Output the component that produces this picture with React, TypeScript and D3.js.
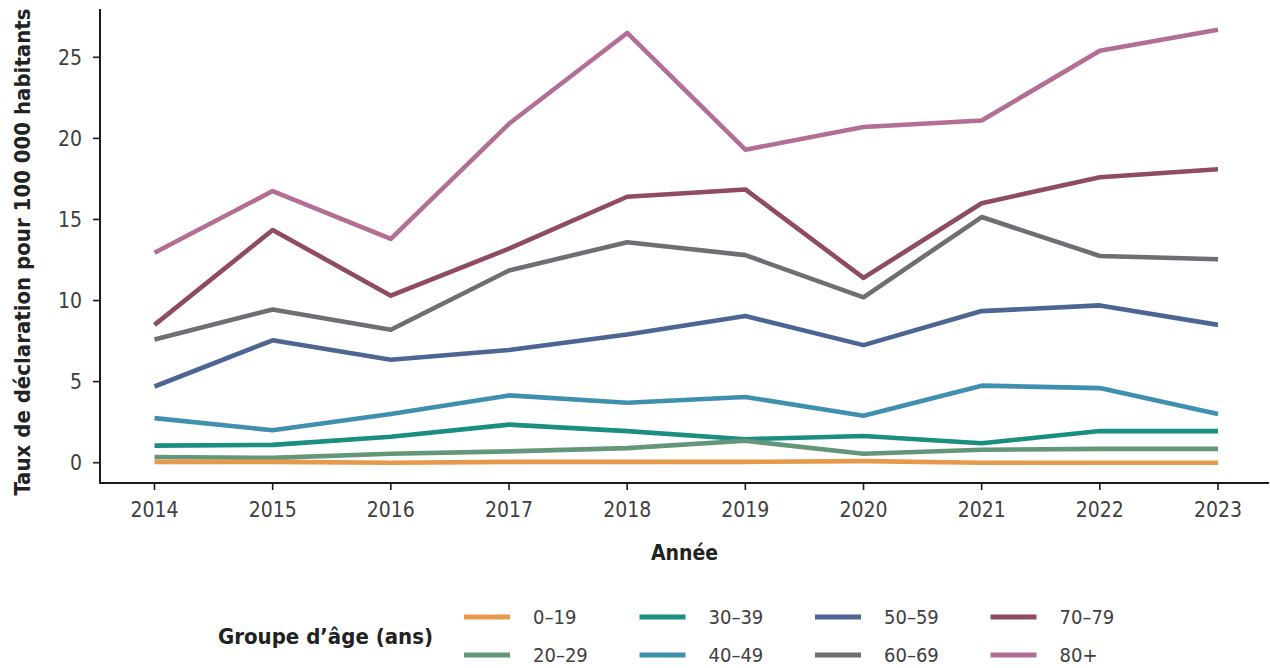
import React from "react";
import * as d3 from "d3";

const years = [2014, 2015, 2016, 2017, 2018, 2019, 2020, 2021, 2022, 2023];
const groups = ["0–19", "20–29", "30–39", "40–49", "50–59", "60–69", "70–79", "80+"];
const colors = ["#E6994A", "#64977A", "#1B8E82", "#3F90AE", "#4C6593", "#6E6F73", "#8E4B63", "#B26E94"];

const v0_19 = [0.05, 0.05, 0.0, 0.05, 0.05, 0.05, 0.1, 0.0, 0.0, 0.0];
const v20_29 = [0.35, 0.3, 0.55, 0.7, 0.9, 1.35, 0.55, 0.8, 0.85, 0.85];
const v30_39 = [1.05, 1.1, 1.6, 2.35, 1.95, 1.45, 1.65, 1.2, 1.95, 1.95];
const v40_49 = [2.75, 2.0, 3.0, 4.15, 3.7, 4.05, 2.9, 4.75, 4.6, 3.0];
const v50_59 = [4.7, 7.55, 6.35, 6.95, 7.9, 9.05, 7.25, 9.35, 9.7, 8.5];
const v60_69 = [7.6, 9.45, 8.2, 11.85, 13.6, 12.8, 10.2, 15.15, 12.75, 12.55];
const v70_79 = [8.5, 14.35, 10.3, 13.2, 16.4, 16.85, 11.4, 16.0, 17.6, 18.1];
const v80 = [12.95, 16.75, 13.8, 20.9, 26.5, 19.3, 20.7, 21.1, 25.4, 26.7];
const series = [v0_19, v20_29, v30_39, v40_49, v50_59, v60_69, v70_79, v80];

const yTicks = [0, 5, 10, 15, 20, 25];

const W = 1270;
const H = 668;
const left = 100;
const right = 1269;
const top = 9;
const bottom = 483;

const FONT = "'DejaVu Sans Condensed', 'DejaVu Sans', sans-serif";

export default function App() {
  const x = d3.scaleLinear().domain([2014, 2023]).range([154.5, 1218]);
  const y = d3.scaleLinear().domain([0, 25]).range([462.7, 57.3]);
  const line = d3
    .line<number>()
    .x((_, i) => x(years[i]))
    .y((d) => y(d));

  const order = series.map((_, i) => i).reverse();

  return (
    <svg
      width={W}
      height={H}
      style={{ position: "absolute", left: 0, top: 0, background: "#fff" }}
    >
      {order.map((i) => (
        <path
          key={groups[i]}
          d={line(series[i]) || ""}
          fill="none"
          stroke={colors[i]}
          strokeWidth={4.6}
          strokeLinejoin="round"
          strokeLinecap="butt"
        />
      ))}

      <line x1={left} x2={left} y1={top} y2={bottom} stroke="#1a1a1a" strokeWidth={2} />
      {yTicks.map((t) => (
        <g key={t}>
          <line x1={left - 7} x2={left} y1={y(t)} y2={y(t)} stroke="#1a1a1a" strokeWidth={1.6} />
          <text
            x={left - 18}
            y={y(t)}
            dy="0.36em"
            textAnchor="end"
            fontFamily={FONT}
            fontSize={21}
            fill="#404040"
          >
            {t}
          </text>
        </g>
      ))}

      <line x1={left - 1} x2={right} y1={bottom} y2={bottom} stroke="#1a1a1a" strokeWidth={2} />
      {years.map((yr) => (
        <g key={yr}>
          <line x1={x(yr)} x2={x(yr)} y1={bottom} y2={bottom + 7} stroke="#1a1a1a" strokeWidth={1.6} />
          <text
            x={x(yr)}
            y={509}
            dy="0.36em"
            textAnchor="middle"
            fontFamily={FONT}
            fontSize={21}
            fill="#404040"
          >
            {yr}
          </text>
        </g>
      ))}

      <text
        x={(left + right) / 2}
        y={552}
        dy="0.36em"
        textAnchor="middle"
        fontFamily={FONT}
        fontWeight="bold"
        fontSize={21}
        fill="#222"
      >
        Année
      </text>
      <text
        transform={`translate(22, ${(top + bottom) / 2 + 6}) rotate(-90)`}
        textAnchor="middle"
        dy="0.36em"
        fontFamily={FONT}
        fontWeight="bold"
        fontSize={22}
        fill="#222"
      >
        Taux de déclaration pour 100 000 habitants
      </text>

      <text
        x={218}
        y={636}
        dy="0.36em"
        fontFamily={FONT}
        fontWeight="bold"
        fontSize={22}
        fill="#222"
      >
        Groupe d’âge (ans)
      </text>
      {groups.map((g, i) => {
        const col = Math.floor(i / 2);
        const row = i % 2;
        const kx = 464 + col * 175.5;
        const ky = row === 0 ? 617 : 655;
        return (
          <g key={g}>
            <line x1={kx} x2={kx + 46} y1={ky} y2={ky} stroke={colors[i]} strokeWidth={5} />
            <text
              x={kx + 69}
              y={ky}
              dy="0.36em"
              fontFamily={FONT}
              fontSize={20}
              fill="#404040"
            >
              {g}
            </text>
          </g>
        );
      })}
    </svg>
  );
}
